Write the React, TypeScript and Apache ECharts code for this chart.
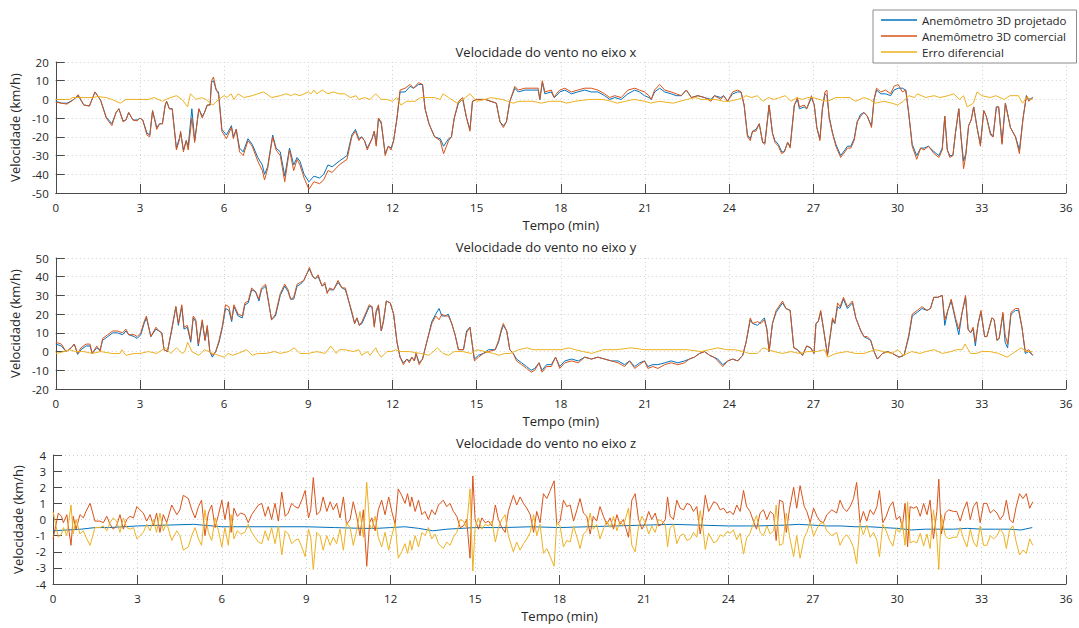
import React, { useEffect, useRef } from "react";
import * as echarts from "echarts";

// ---------- Eixo x ----------
const tX = [
  0, 0.2, 0.4, 0.6, 0.8, 1.0, 1.2, 1.4, 1.6, 1.8,
  2.0, 2.15, 2.25, 2.4, 2.5, 2.6, 2.75, 2.9, 3.0, 3.1,
  3.25, 3.35, 3.45, 3.6, 3.7, 3.8, 3.9, 3.95, 4.05, 4.15,
  4.3, 4.4, 4.45, 4.55, 4.65, 4.72, 4.85, 4.95, 5.1, 5.22,
  5.3, 5.4, 5.5, 5.55, 5.62, 5.72, 5.8, 5.92, 6.08, 6.26,
  6.33, 6.43, 6.55, 6.68, 6.85, 7.0, 7.2, 7.36, 7.44, 7.55,
  7.73, 7.85, 8.0, 8.16, 8.33, 8.48, 8.6, 8.7, 8.85, 9.02,
  9.2, 9.4, 9.55, 9.7, 9.85, 10.1, 10.38, 10.55, 10.68, 10.8,
  10.9, 11.0, 11.1, 11.27, 11.35, 11.42, 11.5, 11.6, 11.74, 11.85,
  11.95, 12.04, 12.16, 12.27, 12.45, 12.63, 12.75, 12.93, 13.07, 13.16,
  13.3, 13.5, 13.7, 13.82, 14.0, 14.1, 14.2, 14.35, 14.5, 14.64,
  14.76, 14.85, 15.0, 15.3, 15.7, 15.83, 15.95, 16.06, 16.18, 16.36,
  16.48, 16.72, 17.0, 17.19, 17.25, 17.34, 17.43, 17.66, 17.76, 17.84,
  17.96, 18.14, 18.38, 18.6, 18.85, 19.08, 19.32, 19.56, 19.74, 19.92,
  20.15, 20.39, 20.63, 20.8, 20.98, 21.14, 21.22, 21.34, 21.52, 21.7,
  21.93, 22.11, 22.29, 22.47, 22.65, 22.88, 23.12, 23.35, 23.47, 23.7,
  23.8, 23.94, 24.12, 24.3, 24.42, 24.53, 24.65, 24.75, 24.83, 24.95,
  25.07, 25.19, 25.27, 25.42, 25.54, 25.63, 25.75, 25.87, 25.96, 26.08,
  26.17, 26.32, 26.43, 26.5, 26.67, 26.76, 26.93, 27.03, 27.12, 27.23,
  27.32, 27.41, 27.48, 27.56, 27.68, 27.8, 27.97, 28.12, 28.21, 28.33,
  28.45, 28.56, 28.68, 28.8, 28.92, 29.0, 29.07, 29.16, 29.25, 29.4,
  29.57, 29.75, 29.87, 30.02, 30.17, 30.29, 30.4, 30.52, 30.68, 30.82,
  30.94, 31.1, 31.3, 31.47, 31.59, 31.68, 31.77, 31.86, 31.97, 32.06,
  32.18, 32.26, 32.35, 32.43, 32.53, 32.62, 32.71, 32.83, 32.95, 33.07,
  33.16, 33.31, 33.4, 33.52, 33.6, 33.72, 33.84, 34.02, 34.2, 34.34,
  34.47, 34.59, 34.67, 34.82,
];
const comercialX = [
  -1.5, -2, -2.5, -0.5, 2.5, -3, -3.5, 4, -0.5, -10,
  -14, -7, -5, -12, -11, -7, -11, -11.5, -10, -11,
  -19, -20, -6, -16, -13, -13, -3, -1, -5, -5,
  -27, -22, -17, -28, -22, -27, -10, -23, -5, -10,
  -7, -3, -3, 10, 12, 5, 3, -17, -21, -15,
  -21, -16, -28, -30, -22, -25, -33, -38, -43, -37,
  -20, -27, -30, -44, -27, -38, -32, -35, -42, -48,
  -44, -45, -43, -38, -39, -35, -32, -20, -17, -22,
  -20, -22, -27, -21, -17, -25, -10, -12, -30, -25,
  -27, -22, -10, 5, 6, 8, 6, 9, 8, -5,
  -13, -20, -22, -29, -22, -20, -10, -1, 1, -10,
  -17, -1, 0, 0, -2, -12, -15, -12, -1, 7,
  5, 6, 6, 6, 0, 10, 4, 5, 1, 3,
  5, 6, 4, 5, 6, 6, 5, 3, 1, 2,
  1, 5, 6, 5, 4, 2, 0, 5, 8, 5,
  4, 3, 2, 5, 1, 2, 1, -1, 2, 0,
  2, -1, 4, 5, 4, -3, -20, -22, -17, -17,
  -13, -23, -24, -3, -18, -23, -25, -29, -28, -23,
  -26, -3, 1, -4, -3, -5, 2, -3, -15, -22,
  -5, 4, 5, -10, -18, -25, -31, -28, -26, -26,
  -22, -12, -9, -7, -9, -12, -15, 0, 6, 4,
  5, 3, 7, 8, 4, 5, -8, -25, -32, -26,
  -27, -25, -29, -31, -27, -9, -27, -31, -30, -18,
  -5, -20, -37, -30, -14, -11, -4, -15, -25, -6,
  -9, -19, -20, -4, -4, -24, -2, -15, -20, -29,
  -10, 2, -1, 1,
];
const projetadoX = [
  -1, -2, -2, -0.5, 2, -3, -3.5, 4, -0.5, -9.5,
  -13, -7, -5, -11.5, -11, -7, -11, -11, -10, -11,
  -18, -19, -6, -15, -13, -13, -3, -1, -5, -5,
  -26, -21, -18, -27, -22, -25, -5, -22, -5, -9,
  -7, -3, -3, 9, 10, 5, 4, -16, -19, -14,
  -20, -16, -26, -28, -21, -24, -31, -35, -40, -36,
  -19, -26, -28, -41, -26, -35, -31, -33, -40, -44,
  -41, -42, -40, -35, -36, -33, -30, -19, -16, -21,
  -20, -22, -26, -21, -17, -24, -10, -13, -29, -25,
  -26, -22, -10, 4, 4, 7, 6, 8, 8, -5,
  -13, -20, -21, -25, -21, -20, -10, -2, 0, -10,
  -16, -1, 0, 0, -2, -12, -14, -12, -1, 6,
  4, 5, 5, 5, 0, 9, 3, 4, 1, 2,
  4, 5, 3, 4, 5, 4, 4, 2, 0, 1,
  0, 3, 5, 4, 2, 1, 0, 4, 6, 4,
  3, 2, 2, 5, 1, 2, 1, 0, 2, 1,
  2, -1, 3, 4, 4, -3, -19, -21, -17, -16,
  -13, -23, -23, -3, -18, -22, -24, -28, -28, -23,
  -25, -3, 0, -5, -4, -5, 1, -3, -15, -21,
  -5, 3, 2, -9, -18, -24, -30, -27, -25, -25,
  -21, -12, -8, -7, -9, -12, -14, 0, 5, 3,
  3, 2, 5, 6, 6, 5, -8, -24, -30, -26,
  -26, -25, -28, -30, -26, -9, -27, -30, -30, -18,
  -5, -20, -33, -29, -14, -11, -4, -15, -24, -6,
  -9, -18, -20, -4, -4, -23, -2, -15, -20, -27,
  -10, 2, 0, 1,
];
const tErroX = [
  0, 0.5, 0.6, 1.0, 1.3, 1.5, 1.8, 2.0, 2.3, 2.5,
  3.0, 3.3, 3.5, 3.8, 4.0, 4.3, 4.5, 4.7, 4.8, 5.0,
  5.2, 5.35, 5.5, 5.6, 5.8, 6.0, 6.1, 6.25, 6.35, 6.5,
  6.7, 7.0, 7.2, 7.4, 7.6, 7.7, 8.0, 8.2, 8.4, 8.5,
  8.7, 9.0, 9.1, 9.2, 9.3, 9.5, 9.7, 9.9, 10.1, 10.3,
  10.5, 10.7, 10.8, 11.0, 11.2, 11.4, 11.6, 11.8, 12.0, 12.15,
  12.3, 12.5, 12.8, 13.0, 13.3, 13.5, 13.7, 13.8, 14.0, 14.3,
  14.6, 14.76, 15.0, 15.3, 15.5, 15.9, 16.1, 16.3, 16.5, 17.0,
  17.3, 17.6, 18.0, 18.2, 18.5, 19.0, 19.5, 19.8, 20.0, 20.3,
  20.6, 21.0, 21.2, 21.5, 22.0, 22.5, 22.8, 23.0, 23.5, 23.8,
  24.0, 24.3, 24.5, 24.6, 24.8, 25.0, 25.2, 25.4, 25.6, 25.8,
  26.0, 26.2, 26.4, 26.6, 26.8, 27.0, 27.2, 27.5, 27.8, 28.0,
  28.3, 28.5, 28.8, 29.0, 29.2, 29.5, 29.8, 30.0, 30.2, 30.4,
  30.6, 30.7, 31.0, 31.3, 31.5, 31.8, 32.0, 32.2, 32.35, 32.48,
  32.7, 32.83, 33.0, 33.3, 33.5, 33.8, 34.0, 34.3, 34.45, 34.6,
  34.8,
];
const erroX = [
  0, 0, 1, 1, 1, 1.5, 1, 0, -2, 0,
  0, 0, 1, -1, 0.5, 2, 0, -4, 3, 0,
  1, 0, -2, -3, 0, 2, 1, 3, 0, 3,
  1, 2, 3, 4, 2, 1, 2, 3, 2, 3,
  2, 4, 3, 5, 3, 5, 3, 4, 3, 3,
  1, 2, 0, 1, 0, 3, 0, 0, -1, 1,
  -3, -1, -1, 1, 1, 1, 0, 3, 1, -2,
  1, 3, -1, 0, 1, 0, -1, -2, -1, -1,
  -2, -1, -1, -2, -1, 0, 0, -1, -2, -1,
  0, -1, -2, -1, -2, 0, 1, 0, 0, -1,
  -1, 0, 1, 2, 1, 2, -1, 1, 0, 1,
  2, -1, 1, 0, 1, 1, 0, -1, 1, 1,
  1, -1, 1, 0, -2, -1, -2, -3, -1, 2,
  1, 3, 1, 2, 1, 2, 3, 0, 2, -4,
  -2, 4, 2, 1, 2, 0, 2, 2, -2, 1,
  0,
];

// ---------- Eixo y ----------
const tY = [
  0, 0.2, 0.37, 0.55, 0.66, 0.78, 0.9, 1.08, 1.22, 1.3,
  1.46, 1.58, 1.67, 1.85, 2.03, 2.2, 2.38, 2.5, 2.6, 2.8,
  2.9, 3.03, 3.15, 3.23, 3.39, 3.57, 3.68, 3.78, 3.86, 3.98,
  4.13, 4.28, 4.37, 4.49, 4.57, 4.69, 4.81, 4.9, 4.99, 5.08,
  5.22, 5.32, 5.4, 5.49, 5.58, 5.7, 5.82, 5.94, 6.05, 6.17,
  6.27, 6.35, 6.5, 6.65, 6.74, 6.86, 6.98, 7.12, 7.24, 7.33,
  7.48, 7.6, 7.69, 7.83, 8.0, 8.16, 8.28, 8.37, 8.48, 8.6,
  8.72, 8.84, 8.96, 9.04, 9.16, 9.25, 9.35, 9.49, 9.59, 9.67,
  9.76, 9.9, 10.06, 10.2, 10.32, 10.44, 10.56, 10.65, 10.73, 10.82,
  10.91, 11.03, 11.17, 11.27, 11.35, 11.42, 11.5, 11.6, 11.68, 11.78,
  11.92, 12.04, 12.16, 12.27, 12.39, 12.51, 12.6, 12.69, 12.78, 12.84,
  12.95, 13.07, 13.22, 13.4, 13.54, 13.66, 13.76, 13.87, 13.99, 14.11,
  14.23, 14.35, 14.53, 14.64, 14.76, 14.85, 14.92, 15.06, 15.24, 15.42,
  15.66, 15.78, 15.88, 15.95, 16.07, 16.18, 16.3, 16.42, 16.6, 16.78,
  16.94, 17.07, 17.22, 17.33, 17.49, 17.66, 17.81, 17.96, 18.14, 18.38,
  18.62, 18.85, 19.09, 19.32, 19.56, 19.8, 20.04, 20.27, 20.45, 20.63,
  20.81, 20.98, 21.1, 21.28, 21.46, 21.7, 21.93, 22.17, 22.41, 22.58,
  22.76, 22.94, 23.12, 23.3, 23.45, 23.59, 23.77, 23.95, 24.12, 24.3,
  24.48, 24.6, 24.75, 24.83, 25.01, 25.13, 25.25, 25.34, 25.42, 25.54,
  25.67, 25.9, 26.02, 26.17, 26.3, 26.43, 26.61, 26.76, 26.9, 27.02,
  27.09, 27.17, 27.26, 27.36, 27.5, 27.68, 27.76, 27.86, 27.95, 28.07,
  28.21, 28.39, 28.51, 28.69, 28.8, 28.92, 29.04, 29.16, 29.28, 29.46,
  29.64, 29.81, 30.05, 30.23, 30.4, 30.52, 30.7, 30.87, 31.05, 31.17,
  31.29, 31.43, 31.59, 31.68, 31.79, 31.91, 32.06, 32.18, 32.3, 32.42,
  32.51, 32.6, 32.69, 32.77, 32.87, 32.97, 33.1, 33.18, 33.36, 33.44,
  33.54, 33.62, 33.75, 33.83, 33.92, 34.04, 34.2, 34.31, 34.43, 34.55,
  34.67, 34.82,
];
const comercialY = [
  5, 4, 0, 2, 4, -1, 2, 4, 4, -1,
  3, 0, 7, 9, 11, 11, 10, 12, 9, 9,
  8, 10, 16, 19, 8, 13, 11, 10, 1, 0,
  12, 24, 15, 25, 13, 14, 6, 19, 17, 4,
  17, 6, 14, 0, -2, 0, 6, 14, 25, 24,
  17, 25, 20, 19, 26, 27, 34, 32, 28, 34,
  36, 25, 17, 20, 31, 36, 33, 28, 29, 36,
  37, 38, 42, 45, 40, 39, 41, 35, 37, 31,
  34, 33, 38, 34, 34, 27, 21, 15, 18, 14,
  16, 20, 25, 24, 13, 22, 25, 11, 17, 27,
  26, 20, 5, -3, -7, -4, -6, -3, -5, -1,
  -7, -4, 5, 15, 19, 17, 20, 19, 19, 15,
  9, 1, 1, 10, 13, 3, -5, -3, -1, 0,
  1, 6, 12, 15, 11, 1, -1, -5, -7, -9,
  -11, -10, -6, -11, -8, -8, -3, -9, -6, -5,
  -6, -3, -4, -3, -4, -5, -6, -8, -5, -9,
  -7, -5, -9, -8, -9, -7, -6, -7, -6, -4,
  -3, -1, 0, -2, -3, -5, -8, -5, -4, -5,
  -2, 5, 18, 15, 16, 15, 17, 12, 0, 15,
  22, 27, 23, 22, 2, 1, -2, 3, 2, -1,
  15, 16, 22, 12, -2, 18, 15, 26, 24, 29,
  24, 27, 18, 11, 8, 8, 6, 0, -4, -1,
  0, -1, -3, -2, 9, 20, 22, 24, 22, 23,
  29, 29, 30, 17, 22, 28, 18, 12, 21, 30,
  12, 10, 13, 5, 15, 22, 8, 8, 18, 17,
  6, 7, 21, 9, 4, 21, 23, 23, 13, 0,
  1, -2,
];
const projetadoY = [
  4, 3, 0, 2, 4, -1.5, 1, 3, 3, -1,
  2, 1, 6, 8, 10, 10, 9, 11, 9, 8,
  7, 9, 15, 18, 8, 12, 11, 10, 1, 0,
  11, 24, 14, 24, 12, 13, 5, 18, 16, 3,
  16, 6, 13, 0, -3, 0, 5, 13, 23, 22,
  16, 24, 19, 18, 25, 26, 33, 32, 27, 33,
  35, 25, 17, 19, 30, 35, 32, 28, 28, 35,
  36, 38, 42, 44, 40, 39, 40, 35, 36, 32,
  33, 33, 37, 34, 33, 27, 20, 15, 18, 14,
  15, 19, 24, 24, 14, 21, 24, 11, 16, 27,
  26, 20, 5, -3, -6, -4, -5, -3, -5, -1,
  -6, -4, 5, 16, 20, 23, 19, 19, 20, 15,
  9, 1, 1, 11, 13, 3, -4, -2, -1, 1,
  1, 5, 11, 14, 11, 1, -1, -4, -6, -8,
  -10, -9, -6, -10, -7, -7, -3, -8, -5, -4,
  -5, -3, -4, -3, -4, -5, -5, -7, -5, -8,
  -6, -5, -8, -7, -7, -6, -5, -6, -5, -4,
  -3, -1, 0, -2, -3, -4, -7, -5, -4, -5,
  -2, 5, 17, 15, 14, 16, 18, 12, 0, 15,
  21, 26, 23, 22, 2, 1, -2, 3, 2, -1,
  15, 16, 21, 12, -2, 17, 15, 24, 23, 28,
  23, 26, 18, 11, 8, 7, 6, 0, -4, -1,
  0, -1, -3, -2, 8, 19, 21, 23, 22, 23,
  29, 29, 30, 14, 22, 27, 17, 9, 21, 29,
  12, 10, 12, 3, 15, 21, 8, 8, 18, 17,
  6, 7, 20, 5, 2, 20, 22, 22, 13, -1,
  0, -2,
];
const tErroY = [
  0, 0.3, 0.5, 0.7, 1.0, 1.3, 1.6, 2.0, 2.3, 2.35,
  2.5, 2.8, 3.0, 3.3, 3.6, 3.9, 4.1, 4.3, 4.5, 4.6,
  4.7, 4.85, 5.1, 5.3, 5.6, 5.8, 6.0, 6.15, 6.3, 6.5,
  6.8, 7.0, 7.2, 7.5, 7.8, 8.0, 8.3, 8.5, 8.7, 9.0,
  9.3, 9.6, 9.8, 10.0, 10.1, 10.3, 10.6, 10.8, 10.9, 11.1,
  11.2, 11.4, 11.5, 11.6, 11.8, 12.0, 12.1, 12.3, 12.6, 13.0,
  13.3, 13.6, 13.8, 14.0, 14.2, 14.5, 14.8, 15.0, 15.3, 15.6,
  15.8, 16.0, 16.2, 16.5, 16.8, 17.0, 17.5, 18.0, 18.3, 18.5,
  18.8, 19.1, 19.5, 20.0, 20.5, 21.0, 21.5, 22.0, 22.5, 23.0,
  23.3, 23.6, 23.9, 24.2, 24.5, 24.7, 25.0, 25.2, 25.4, 25.6,
  25.9, 26.2, 26.5, 26.8, 27.1, 27.4, 27.5, 27.8, 28.2, 28.5,
  28.8, 29.2, 29.5, 29.8, 30.0, 30.2, 30.5, 30.8, 31.0, 31.3,
  31.6, 31.9, 32.1, 32.3, 32.4, 32.6, 32.8, 33.0, 33.3, 33.6,
  33.9, 34.1, 34.4, 34.6, 34.8,
];
const erroY = [
  -1, 0, 1, 0, 0, -1, 0, -1, -1, 1,
  -2, -1, -1, 0, -1, 2, -1, 2, -1, 0,
  5, 0, -2, 1, -1, -2, -3, -1, -2, -1,
  1, -2, -1, -1, 0, -1, 0, 2, -1, -1,
  0, -1, 3, -1, 1, 1, 0, 1, -2, 0,
  -2, 2, -1, -3, 0, 0, 1, 0, 0, -1,
  -2, 2, -1, -2, 0, 0, -1, 1, 0, -1,
  -2, -1, -1, 1, 2, 1, 1, 1, 2, 1,
  0, -1, 1, 1, 2, 1, 1, 1, 1, 0,
  1, 2, 1, 1, 0, -1, -1, 2, 1, 0,
  -1, 0, -1, 0, 0, 1, -3, -1, 0, -1,
  -1, 1, 0, -1, 1, -2, 0, -1, 0, 1,
  -1, 0, 1, 1, 4, -1, -1, 0, 0, -1,
  -3, -1, 2, 0, 0,
];

// ---------- Eixo z ----------
const tZ = [
  0, 0.19, 0.3, 0.37, 0.49, 0.56, 0.64, 0.72, 0.82, 0.96,
  1.08, 1.17, 1.32, 1.49, 1.67, 1.79, 1.91, 2.03, 2.14, 2.26,
  2.38, 2.5, 2.62, 2.74, 2.86, 2.98, 3.09, 3.21, 3.33, 3.45,
  3.57, 3.68, 3.8, 3.92, 4.04, 4.22, 4.4, 4.51, 4.63, 4.81,
  4.93, 5.05, 5.17, 5.28, 5.4, 5.52, 5.64, 5.76, 5.88, 6.0,
  6.11, 6.23, 6.33, 6.43, 6.55, 6.67, 6.82, 6.94, 7.06, 7.18,
  7.3, 7.42, 7.54, 7.65, 7.77, 7.89, 8.01, 8.13, 8.25, 8.36,
  8.48, 8.6, 8.72, 8.84, 8.96, 9.08, 9.16, 9.25, 9.37, 9.49,
  9.6, 9.73, 9.85, 9.96, 10.08, 10.2, 10.32, 10.43, 10.56, 10.67,
  10.79, 10.91, 11.03, 11.15, 11.25, 11.33, 11.45, 11.56, 11.68, 11.8,
  11.93, 12.04, 12.16, 12.27, 12.39, 12.51, 12.6, 12.69, 12.75, 12.87,
  12.99, 13.11, 13.22, 13.34, 13.46, 13.58, 13.7, 13.87, 13.99, 14.11,
  14.23, 14.35, 14.47, 14.59, 14.7, 14.82, 14.92, 15.0, 15.12, 15.24,
  15.36, 15.48, 15.6, 15.72, 15.83, 15.95, 16.07, 16.18, 16.36, 16.48,
  16.6, 16.72, 16.84, 16.96, 17.08, 17.19, 17.31, 17.43, 17.55, 17.67,
  17.81, 17.9, 18.02, 18.14, 18.26, 18.38, 18.5, 18.62, 18.73, 18.85,
  18.97, 19.09, 19.2, 19.32, 19.44, 19.56, 19.68, 19.8, 19.92, 20.04,
  20.15, 20.27, 20.45, 20.57, 20.69, 20.81, 20.93, 21.05, 21.17, 21.28,
  21.4, 21.52, 21.64, 21.76, 21.84, 21.93, 22.05, 22.17, 22.29, 22.41,
  22.53, 22.65, 22.76, 22.88, 23.0, 23.1, 23.18, 23.3, 23.48, 23.59,
  23.71, 23.83, 23.95, 24.06, 24.18, 24.3, 24.42, 24.54, 24.65, 24.77,
  24.89, 25.0, 25.13, 25.25, 25.37, 25.49, 25.61, 25.7, 25.82, 25.94,
  26.06, 26.17, 26.32, 26.43, 26.55, 26.7, 26.79, 26.91, 27.03, 27.15,
  27.26, 27.38, 27.5, 27.68, 27.85, 27.97, 28.09, 28.21, 28.33, 28.45,
  28.56, 28.68, 28.8, 28.92, 29.04, 29.16, 29.28, 29.37, 29.49, 29.61,
  29.73, 29.85, 29.97, 30.09, 30.18, 30.28, 30.37, 30.46, 30.58, 30.7,
  30.82, 30.94, 31.06, 31.17, 31.29, 31.41, 31.48, 31.57, 31.71, 31.83,
  32.0, 32.12, 32.24, 32.36, 32.48, 32.6, 32.71, 32.83, 32.95, 33.07,
  33.19, 33.31, 33.43, 33.55, 33.66, 33.78, 33.88, 34.0, 34.12, 34.23,
  34.35, 34.47, 34.59, 34.71, 34.82,
];
const comercialZ = [
  -1.2, 0.4, 0.2, -0.2, 0.3, -0.6, -1.6, 0.2, -0.6, 0.3,
  0.1, 0.5, 1.0, -0.1, -0.1, -0.2, 0.2, -0.3, -0.6, -0.4,
  0.3, -0.6, 0, 0.2, 0.1, 0.8, 0.6, 0.4, -0.1, 0.3,
  -0.4, 0.4, -0.8, 0.3, -0.2, 0.9, 0.3, 0.6, 1.5, 1.3,
  0.6, 0.1, 0.8, 1.2, -1.0, 0.4, 0.9, -0.5, 0.3, 1.2,
  0, 1.1, -0.8, 0.7, 0.2, 0.4, 0.3, -0.2, 0.3, 0.6,
  0.9, 1.0, 0.2, 0.8, 0, 1.0, -0.1, 1.7, 0.2, 0.4,
  1.0, 0.8, 0.7, 1.2, 1.8, 0.1, 0.6, 2.6, 0.3, 0.5,
  1.4, 0.5, 1.1, 0.6, 1.0, 0.1, 1.4, -0.3, 0.0, 1.1,
  0.2, -1.0, 0.6, -2.9, -0.2, 0.1, -0.7, 0.6, 1.2, 0.3,
  1.4, 0.5, -0.3, 1.9, 1.5, 1.0, 1.6, 0.8, 1.4, 0.5,
  1.2, 0.3, 0.5, 0.0, 0.6, 0.3, 0.9, 1.2, 0.8, 1.0,
  0.5, 0.2, -0.5, -0.4, 0.0, -2.4, 2.7, 0.0, -0.6, 0.1,
  -0.2, -0.1, -0.4, 0.9, 0.0, -0.5, -0.8, 0.5, 1.5, 0.9,
  1.4, 1.0, 0.7, 0.3, -0.8, 0.5, -0.2, 1.6, 1.3, 1.8,
  2.4, -0.3, -0.1, 1.2, 0.8, 0.9, -0.1, 0.6, 1.3, 0.4,
  0.2, -0.9, 0.2, -0.1, 0.8, 0.2, -0.3, 0.1, -0.6, 0.3,
  -0.3, 0.0, -1.1, 1.2, 1.6, 0.0, -0.6, -0.2, 0.5, 0.0,
  0.4, -0.4, -0.3, 0.0, 1.4, 0.2, 0.0, 1.2, 0.7, 0.6,
  1.0, 0.9, 0.5, 0.8, -0.9, 0.2, 1.5, 0.5, 1.1, 1.0,
  0.6, 0.7, 0.4, 0.5, 0.3, 0.9, 0.5, 1.8, 0.8, 0.5,
  -0.1, -0.6, 0.4, 0.6, 0.0, 0.5, 0.3, -1.3, 1.2, 1.1,
  -0.8, 0.6, 2.0, 0.7, 2.1, 0.8, 0.5, -0.2, 0.7, 0.2,
  -0.1, -0.2, 0.3, 0.6, 0.4, 1.2, 0.7, 0.5, 0.8, 1.3,
  2.3, -0.2, 0.5, -0.1, 0.6, 0.3, 0.8, 1.8, -0.2, 0.2,
  0.8, 1.1, 0.0, 0.2, -0.5, 1.0, -1.7, 0.8, 0.7, 0.8,
  0.2, 1.0, 0.3, 1.2, -1.2, 0.5, 2.5, -0.9, 0.4, 0.6,
  0.5, 0.5, -0.1, 0.6, 1.1, 0.0, 0.8, 1.1, -0.2, 1.0,
  1.0, 0.4, 0.6, 0.4, 0.0, 0.3, 1.2, 0.0, -0.2, 0.8,
  1.6, 1.3, 1.6, 0.7, 1.1,
];
const erroZ = [
  0.5, -1.1, -0.9, -0.5, -1.0, -0.1, 0.9, -0.9, 0.0, -0.9,
  -0.7, -1.1, -1.6, -0.5, -0.5, -0.4, -0.7, -0.2, 0.1, -0.1,
  -0.8, 0.1, -0.5, -0.6, -0.5, -1.2, -1.0, -0.8, -0.3, -0.7,
  0.0, -0.8, 0.4, -0.7, -0.2, -1.3, -0.7, -1.0, -1.9, -1.7,
  -1.0, -0.5, -1.2, -1.6, 0.6, -0.8, -1.3, 0.1, -0.7, -1.7,
  -0.5, -1.6, 0.3, -1.2, -0.7, -0.9, -0.8, -0.3, -0.8, -1.1,
  -1.4, -1.5, -0.7, -1.3, -0.5, -1.5, -0.4, -2.2, -0.7, -0.9,
  -1.5, -1.3, -1.2, -1.7, -2.3, -0.6, -1.1, -3.1, -0.8, -1.0,
  -1.9, -1.0, -1.6, -1.1, -1.5, -0.6, -1.9, -0.2, -0.5, -1.6,
  -0.7, 0.5, -1.1, 2.3, -0.3, -0.6, 0.2, -1.1, -1.7, -0.8,
  -1.9, -1.0, -0.2, -2.4, -2.0, -1.5, -2.1, -1.3, -1.9, -1.0,
  -1.7, -0.8, -1.0, -0.5, -1.2, -0.9, -1.5, -1.8, -1.4, -1.6,
  -1.1, -0.8, 0.0, -0.1, -0.5, 1.9, -3.2, -0.5, 0.1, -0.6,
  -0.3, -0.4, -0.1, -1.4, -0.5, 0.0, 0.3, -1.0, -2.0, -1.4,
  -1.9, -1.5, -1.2, -0.8, 0.3, -1.0, -0.3, -2.1, -1.8, -2.3,
  -2.9, -0.2, -0.4, -1.7, -1.3, -1.4, -0.4, -1.1, -1.8, -0.9,
  -0.7, 0.4, -0.6, -0.3, -1.2, -0.6, -0.1, -0.5, 0.2, -0.7,
  -0.1, -0.4, 0.7, -1.6, -2.0, -0.4, 0.2, -0.2, -0.9, -0.4,
  -0.8, 0.0, -0.1, -0.3, -1.7, -0.5, -0.3, -1.5, -1.0, -0.9,
  -1.3, -1.2, -0.8, -1.1, 0.55, -0.55, -1.85, -0.85, -1.45, -1.35,
  -0.95, -1.05, -0.75, -0.85, -0.65, -1.25, -0.85, -2.15, -1.15, -0.85,
  -0.25, 0.25, -0.8, -1.0, -0.4, -0.9, -0.7, 0.9, -1.6, -1.5,
  0.4, -1.0, -2.3, -1.0, -2.4, -1.1, -0.8, -0.15, -1.05, -0.55,
  -0.25, -0.2, -0.7, -1.0, -0.8, -1.6, -1.15, -0.95, -1.25, -1.75,
  -2.75, -0.25, -0.95, -0.35, -1.1, -0.8, -1.3, -2.3, -0.3, -0.7,
  -1.3, -1.65, -0.55, -0.8, -0.1, -1.6, 1.1, -1.45, -1.35, -1.45,
  -0.85, -1.65, -0.9, -1.8, 0.6, -1.1, -3.1, 0.3, -1.0, -1.2,
  -1.1, -1.1, -0.5, -1.2, -1.7, -0.6, -1.4, -1.7, -0.4, -1.6,
  -1.6, -1.0, -1.2, -1.0, -0.6, -0.9, -1.8, -0.6, -0.4, -1.4,
  -2.2, -1.9, -2.1, -1.2, -1.6,
];
const tProjZ = [
  0, 0.5, 1, 1.5, 2, 3, 4, 5, 6, 7,
  8, 9, 10, 11, 11.5, 12, 12.5, 13, 13.5, 14,
  14.5, 15, 16, 17, 18, 19, 20, 21, 22, 23,
  24, 25, 26, 26.5, 27, 27.5, 28, 28.5, 29, 30,
  30.5, 31, 32, 32.5, 33, 33.5, 34, 34.4, 34.8,
];
const projetadoZ = [
  -0.7, -0.65, -0.6, -0.5, -0.5, -0.4, -0.35, -0.3, -0.45, -0.45,
  -0.45, -0.45, -0.5, -0.55, -0.55, -0.5, -0.45, -0.55, -0.7, -0.6,
  -0.55, -0.5, -0.5, -0.45, -0.5, -0.45, -0.4, -0.35, -0.3, -0.35,
  -0.4, -0.4, -0.35, -0.3, -0.35, -0.4, -0.4, -0.45, -0.45, -0.55,
  -0.65, -0.6, -0.6, -0.55, -0.6, -0.6, -0.6, -0.65, -0.5,
];

const titulos = [
  "Velocidade do vento no eixo x",
  "Velocidade do vento no eixo y",
  "Velocidade do vento no eixo z",
];
const nomes = ["Anemômetro 3D projetado", "Anemômetro 3D comercial", "Erro diferencial"];
const cores = ["#0072BD", "#D95319", "#EDB120"];
const limitesY = [
  { min: -50, max: 20, interval: 10 },
  { min: -20, max: 50, interval: 10 },
  { min: -4, max: 4, interval: 1 },
];

const zip = (t: number[], v: number[]) => {
  const n = Math.min(t.length, v.length);
  const out: number[][] = [];
  for (let i = 0; i < n; i++) out.push([t[i], v[i]]);
  return out;
};

export default function App() {
  const ref = useRef<HTMLDivElement>(null);
  useEffect(() => {
    if (!ref.current) return;
    const chart = echarts.init(ref.current, null, { renderer: "svg" });
    const font = "'Open Sans', 'Noto Sans', sans-serif";
    const axisColor = "#4a4a4a";
    const textColor = "#262626";
    const grids = [
      { left: 53, right: 13, top: 62, height: 131 },
      { left: 53, right: 13, top: 258, height: 131 },
      { left: 53, right: 13, top: 455, height: 129 },
    ];
    const titleY = [52, 247, 443];
    const dados = [
      [zip(tX, projetadoX), zip(tX, comercialX), zip(tErroX, erroX)],
      [zip(tY, projetadoY), zip(tY, comercialY), zip(tErroY, erroY)],
      [zip(tProjZ, projetadoZ), zip(tZ, comercialZ), zip(tZ, erroZ)],
    ];
    const splitLine = { show: true, lineStyle: { type: [1, 3], color: "#d0d0d0", width: 1 } };
    const option: any = {
      animation: false,
      backgroundColor: "#ffffff",
      grid: grids,
      xAxis: grids.map((_, i) => ({
        type: "value",
        gridIndex: i,
        min: 0,
        max: 36,
        interval: 3,
        name: "Tempo (min)",
        nameLocation: "middle",
        nameGap: 25,
        nameTextStyle: { fontFamily: font, fontSize: 13, color: textColor },
        axisLine: { show: true, onZero: false, lineStyle: { color: axisColor, width: 1 } },
        axisTick: { show: true, inside: true, length: 9, lineStyle: { color: axisColor } },
        axisLabel: { fontFamily: font, fontSize: 11.5, color: textColor, margin: 8 },
        splitLine,
      })),
      yAxis: grids.map((_, i) => ({
        type: "value",
        gridIndex: i,
        min: limitesY[i].min,
        max: limitesY[i].max,
        interval: limitesY[i].interval,
        name: "Velocidade (km/h)",
        nameLocation: "middle",
        nameGap: 28,
        nameTextStyle: { fontFamily: font, fontSize: 13, color: textColor },
        axisLine: { show: true, onZero: false, lineStyle: { color: axisColor, width: 1 } },
        axisTick: { show: true, inside: true, length: 9, lineStyle: { color: axisColor } },
        axisLabel: { fontFamily: font, fontSize: 11.5, color: textColor, margin: 7 },
        splitLine,
      })),
      legend: {
        data: nomes.map((n) => ({ name: n, icon: "rect" })),
        orient: "vertical",
        left: 873,
        top: 10,
        itemWidth: 36,
        itemHeight: 1.5,
        itemGap: 4,
        padding: [4, 10, 5, 8],
        backgroundColor: "#ffffff",
        borderColor: "#8c8c8c",
        borderWidth: 1,
        textStyle: { fontFamily: font, fontSize: 11.5, color: textColor },
      },
      graphic: titulos.map((t, i) => ({
        type: "text",
        x: 546,
        y: titleY[i],
        style: {
          text: t,
          fill: textColor,
          font: `13px ${font}`,
          textAlign: "center",
          textVerticalAlign: "middle",
        },
      })),
      series: [] as any[],
    };
    for (let g = 0; g < 3; g++) {
      for (let s = 0; s < 3; s++) {
        option.series.push({
          type: "line",
          name: nomes[s],
          xAxisIndex: g,
          yAxisIndex: g,
          data: dados[g][s],
          showSymbol: false,
          symbol: "none",
          color: cores[s],
          lineStyle: { color: cores[s], width: 1 },
          z: 2 + s,
        });
      }
    }
    chart.setOption(option);
    return () => chart.dispose();
  }, []);
  return (
    <div
      ref={ref}
      style={{ position: "fixed", left: 0, top: 0, width: 1079, height: 628, background: "#fff" }}
    />
  );
}
